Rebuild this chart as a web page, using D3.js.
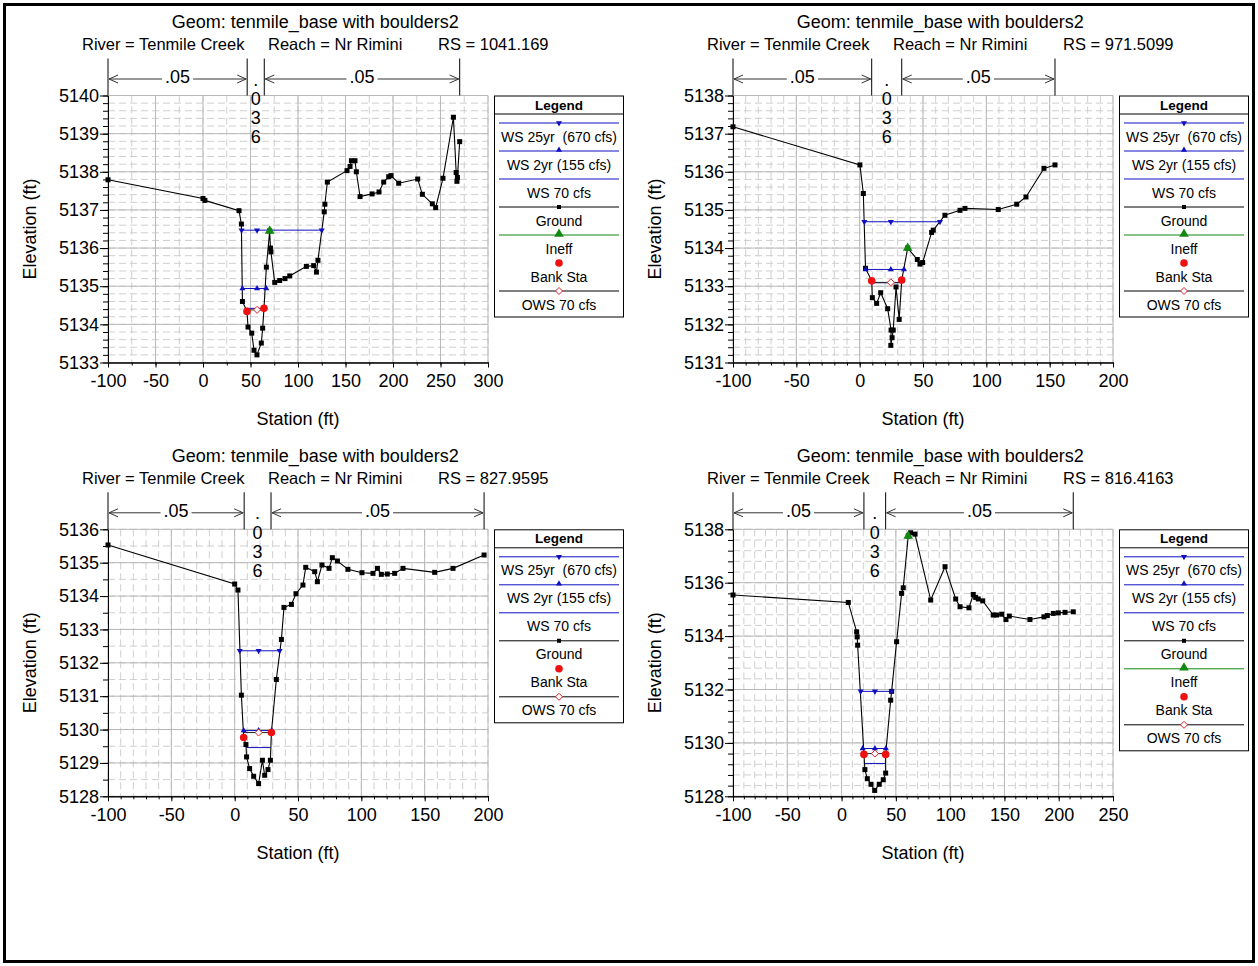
<!DOCTYPE html>
<html>
<head>
<meta charset="utf-8">
<script src="https://cdn.jsdelivr.net/npm/d3@7"></script>
<style>
  body { margin: 0; background: #fff; }
  svg text { font-family: Arial, "Liberation Sans", sans-serif; fill: #000; }
</style>
</head>
<body>
<div id="chart"></div>
<script>
var svgWidth = 1258;
var svgHeight = 966;

// Section headers
var geomTitle = "Geom: tenmile_base with boulders2";
var riverName = "Tenmile Creek";
var reachName = "Nr Rimini";
var riverStations = ["1041.169", "971.5099", "827.9595", "816.4163"];

// Axis ranges and tick steps
var xDomains = [[-100, 300], [-100, 200], [-100, 200], [-100, 250]];
var yDomains = [[5133, 5140], [5131, 5138], [5128, 5136], [5128, 5138]];
var xMajorStep = [50, 50, 50, 50];
var xMinorStep = [25, 10, 10, 10];
var yMajorStep = [1, 1, 1, 2];
var yMinorStep = [0.2, 0.2, 0.5, 0.4];

// Manning's n values and their break stations
var nValues = [".05", ".036", ".05"];
var nBreaks = [[-100, 46.5, 64.5, 270.2], [-100, 9.5, 33.2, 154.2], [-100, 7.5, 28.7, 196.9], [-100, 20.6, 40.6, 213.4]];

// Ground points (station, elevation)
var ground1 = [[-100, 5137.79], [0, 5137.3], [2, 5137.25], [37.9, 5136.98], [40.4, 5136.63], [41.5, 5134.6],
  [46.3, 5134.34], [47.4, 5133.93], [51.3, 5133.77], [53.7, 5133.32], [56.8, 5133.2], [61.4, 5133.51],
  [62.8, 5133.9], [64.2, 5134.42], [66.7, 5135.5], [70.2, 5136.45], [71, 5136.0], [71.5, 5135.9],
  [75.5, 5135.1], [80.7, 5135.15], [86.3, 5135.2], [91.3, 5135.27], [108.8, 5135.52], [116.5, 5135.54],
  [119.4, 5135.37], [121, 5135.68], [127.6, 5136.95], [128.3, 5137.15], [130.9, 5137.73], [151.6, 5138.03],
  [154.8, 5138.14], [156.2, 5138.29], [160, 5138.29], [161.4, 5138.0], [165.3, 5137.35], [178, 5137.42],
  [185.3, 5137.47], [190.2, 5137.73], [195.5, 5137.87], [197.9, 5137.9], [206, 5137.7], [226, 5137.81],
  [230.9, 5137.41], [241.4, 5137.16], [244.9, 5137.06], [252.6, 5137.83], [263.6, 5139.43], [266.5, 5137.98],
  [267.3, 5137.75], [267.8, 5137.85], [270.2, 5138.79]];
var ground2 = [[-100, 5137.18], [0.2, 5136.18], [2.9, 5135.43], [4.6, 5133.47], [9.5, 5133.14], [10, 5132.7],
  [13.4, 5132.55], [16.6, 5132.83], [22.1, 5132.41], [24.8, 5131.85], [24.6, 5131.45], [25.6, 5131.65],
  [26.5, 5131.85], [28.7, 5132.98], [31.2, 5132.13], [33.2, 5133.16], [37.9, 5134.0], [45.5, 5133.7],
  [47.6, 5133.58], [49.7, 5133.62], [56.8, 5134.41], [58.1, 5134.47], [67.3, 5134.86], [79.2, 5134.99],
  [83.1, 5135.04], [109.4, 5135.01], [124, 5135.15], [131.3, 5135.34], [145.5, 5136.09], [154.2, 5136.18]];
var ground3 = [[-100, 5135.53], [0, 5134.36], [2.6, 5134.18], [5.3, 5131.03], [7.1, 5129.76], [8.9, 5129.55],
  [9.4, 5129.18], [11.8, 5128.83], [15, 5128.6], [18.9, 5128.38], [21.9, 5129.08], [23.7, 5128.63],
  [26.3, 5128.8], [28.2, 5129.08], [29, 5129.91], [32.9, 5131.5], [36.9, 5132.7], [38.9, 5133.66],
  [44.8, 5133.75], [48.4, 5134.07], [53.9, 5134.33], [56.1, 5134.86], [63.2, 5134.73], [65.3, 5134.43],
  [68.9, 5134.93], [74.5, 5134.83], [77.1, 5135.15], [81.1, 5135.05], [89.4, 5134.8], [100.5, 5134.7],
  [109.2, 5134.68], [112.7, 5134.83], [115.8, 5134.65], [120.5, 5134.66], [126.3, 5134.68], [132.9, 5134.83],
  [157.9, 5134.71], [172.4, 5134.83], [196.9, 5135.23]];
var ground4 = [[-100, 5135.54], [6.2, 5135.26], [13.9, 5134.16], [14.4, 5133.97], [14.8, 5133.66], [20.6, 5129.57],
  [21.5, 5129.0], [23.7, 5128.66], [27.1, 5128.45], [30.5, 5128.22], [34.7, 5128.45], [38.4, 5128.62],
  [40.6, 5128.87], [40.6, 5129.57], [45.2, 5131.6], [46.1, 5131.93], [50.7, 5133.79], [55.3, 5135.6],
  [56.8, 5135.81], [61.4, 5137.75], [63.6, 5137.87], [67.6, 5137.82], [82.1, 5135.35], [95.3, 5136.6],
  [105.1, 5135.39], [109.1, 5135.1], [117.3, 5135.06], [121.3, 5135.56], [123.5, 5135.45], [125.9, 5135.39],
  [130, 5135.32], [139.7, 5134.79], [142.8, 5134.79], [147.5, 5134.82], [151.4, 5134.62], [154.5, 5134.75],
  [173.5, 5134.62], [186.4, 5134.72], [189.5, 5134.77], [195, 5134.85], [199.6, 5134.87], [205.8, 5134.89],
  [213.4, 5134.91]];

// Bank stations and ineffective flow points
var bank1 = [[46.3, 5134.34], [64.2, 5134.42]];
var bank2 = [[9.5, 5133.14], [33.2, 5133.16]];
var bank3 = [[7.1, 5129.76], [29, 5129.91]];
var bank4 = [[20.6, 5129.57], [40.6, 5129.57]];
var ineff1 = [[70.2, 5136.45]];
var ineff2 = [[37.9, 5134.0]];
var ineff3 = [];
var ineff4 = [[61.4, 5137.75]];

// Water surfaces: elevation and left/right stations
var ws25Elev = [5136.47, 5134.69, 5132.36, 5131.93];
var ws25Sta = [[40.6, 125], [3.7, 63.4], [4, 35.5], [17.6, 46.1]];
var ws2Elev = [5134.94, 5133.44, 5129.97, 5129.79];
var ws2Sta = [[41.5, 66.6], [4.7, 35], [7.1, 29.2], [19.4, 40.8]];
var ws70Elev = [5134.42, 5133.09, 5129.46, 5129.23];
var ws70Sta = [[44.7, 64.3], [9.5, 33.2], [9.2, 28.4], [20.6, 40.6]];
var owsElev = [5134.38, 5133.1, 5129.91, 5129.6];
var midSta = [56.9, 24.6, 18.9, 30.7];

// Legend
var legendLabels = ["WS 25yr  (670 cfs)", "WS 2yr (155 cfs)", "WS 70 cfs", "Ground", "Ineff", "Bank Sta", "OWS 70 cfs"];
var legendKeys = ["ws25", "ws2", "ws70", "ground", "ineff", "bank", "ows"];
var hasIneff = [true, true, false, true];

var grounds = [ground1, ground2, ground3, ground4];
var banks = [bank1, bank2, bank3, bank4];
var ineffs = [ineff1, ineff2, ineff3, ineff4];

// Layout
var plotLeft = [108, 733, 108, 733];
var plotTop = [95.5, 95.5, 529.3, 529.3];
var plotW = 380, plotH = 267;
var wsBlue = "#1010c0";
var font = 18;
var fontFamily = "Arial, 'Liberation Sans', sans-serif";

var svg = d3.select("#chart")
  .append("svg")
  .attr("width", svgWidth)
  .attr("height", svgHeight);

svg.append("rect")
  .attr("x", 4.5).attr("y", 4.5)
  .attr("width", svgWidth - 9).attr("height", svgHeight - 9)
  .attr("fill", "none").attr("stroke", "#000").attr("stroke-width", 3);

function steps(lo, hi, step) {
  var n = Math.round((hi - lo) / step);
  return d3.range(n + 1).map(k => +(lo + k * step).toFixed(4));
}

function drawMarker(g, kind, cx, cy) {
  if (kind == "down" || kind == "up") {
    g.append("path")
      .attr("d", d3.symbol().type(d3.symbolTriangle).size(16)())
      .attr("transform", `translate(${cx},${cy})` + (kind == "down" ? " rotate(180)" : ""))
      .attr("fill", wsBlue);
  } else if (kind == "square") {
    g.append("rect").attr("x", cx - 2.5).attr("y", cy - 2.5).attr("width", 5).attr("height", 5).attr("fill", "#000");
  } else if (kind == "ineff") {
    g.append("path")
      .attr("d", d3.symbol().type(d3.symbolTriangle).size(40)())
      .attr("transform", `translate(${cx},${cy})`)
      .attr("fill", "#118811");
  } else if (kind == "bank") {
    g.append("circle").attr("cx", cx).attr("cy", cy).attr("r", 3.8).attr("fill", "#ee1111");
  } else if (kind == "diamond") {
    g.append("path")
      .attr("d", `M${cx},${cy - 3.5}L${cx + 3.5},${cy}L${cx},${cy + 3.5}L${cx - 3.5},${cy}Z`)
      .attr("fill", "#fff").attr("stroke", "#dd2222").attr("stroke-width", 1);
  }
}

function drawPanel(p) {
  var left = plotLeft[p], top = plotTop[p];
  var chartGroup = svg.append("g").attr("transform", `translate(${left}, ${top})`);

  // Step 1: scales
  var x = d3.scaleLinear().domain(xDomains[p]).range([0, plotW]);
  var y = d3.scaleLinear().domain(yDomains[p]).range([plotH, 0]);

  var xMinor = steps(xDomains[p][0], xDomains[p][1], xMinorStep[p]);
  var xMajor = steps(xDomains[p][0], xDomains[p][1], xMajorStep[p]);
  var yMinor = steps(yDomains[p][0], yDomains[p][1], yMinorStep[p]);
  var yMajor = steps(yDomains[p][0], yDomains[p][1], yMajorStep[p]);

  // Step 2: grid
  var grid = chartGroup.append("g");
  grid.selectAll(".vmin").data(xMinor).enter().append("line")
    .attr("x1", d => x(d)).attr("x2", d => x(d)).attr("y1", 0).attr("y2", plotH)
    .attr("stroke", "#cfcfcf").attr("stroke-dasharray", "7,4");
  grid.selectAll(".hmin").data(yMinor).enter().append("line")
    .attr("y1", d => y(d)).attr("y2", d => y(d)).attr("x1", 0).attr("x2", plotW)
    .attr("stroke", "#cfcfcf").attr("stroke-dasharray", "7,4");
  grid.selectAll(".vmaj").data(xMajor).enter().append("line")
    .attr("x1", d => x(d)).attr("x2", d => x(d)).attr("y1", 0).attr("y2", plotH)
    .attr("stroke", "#b8b8b8");
  grid.selectAll(".hmaj").data(yMajor).enter().append("line")
    .attr("y1", d => y(d)).attr("y2", d => y(d)).attr("x1", 0).attr("x2", plotW)
    .attr("stroke", "#b8b8b8");

  // Step 3: axes (plain hyphen for negative labels)
  var plain = d => String(d);
  chartGroup.append("g")
    .attr("transform", `translate(0, ${plotH})`)
    .call(d3.axisBottom(x).tickValues(xMinor).tickSize(3).tickSizeOuter(0).tickFormat(""));
  chartGroup.append("g")
    .attr("transform", `translate(0, ${plotH})`)
    .call(d3.axisBottom(x).tickValues(xMajor).tickSize(5).tickSizeOuter(0).tickPadding(7).tickFormat(plain))
    .attr("font-size", font).attr("font-family", fontFamily);
  chartGroup.append("g")
    .call(d3.axisLeft(y).tickValues(yMinor).tickSize(5).tickSizeOuter(0).tickFormat(""));
  chartGroup.append("g")
    .call(d3.axisLeft(y).tickValues(yMajor).tickSize(8).tickSizeOuter(0).tickPadding(1).tickFormat(plain))
    .attr("font-size", font).attr("font-family", fontFamily);
  chartGroup.selectAll(".domain").attr("stroke", "#000");

  // Step 4: water surfaces
  var wsList = [
    [ws25Elev[p], ws25Sta[p], "down"],
    [ws2Elev[p], ws2Sta[p], "up"],
    [ws70Elev[p], ws70Sta[p], null]
  ];
  wsList.forEach(function(w) {
    chartGroup.append("line")
      .attr("x1", x(w[1][0])).attr("x2", x(w[1][1]))
      .attr("y1", y(w[0])).attr("y2", y(w[0]))
      .attr("stroke", wsBlue).attr("stroke-width", 1);
  });

  // OWS line between bank stations
  chartGroup.append("line")
    .attr("x1", x(banks[p][0][0])).attr("x2", x(banks[p][1][0]))
    .attr("y1", y(owsElev[p])).attr("y2", y(owsElev[p]))
    .attr("stroke", "#222").attr("stroke-width", 1);

  // Step 5: ground line and points
  var line = d3.line().x(d => x(d[0])).y(d => y(d[1]));
  chartGroup.append("path")
    .datum(grounds[p])
    .attr("d", line)
    .attr("fill", "none").attr("stroke", "#000").attr("stroke-width", 1.1);
  grounds[p].forEach(d => drawMarker(chartGroup, "square", x(d[0]), y(d[1])));

  wsList.forEach(function(w) {
    if (!w[2]) return;
    [w[1][0], midSta[p], w[1][1]].forEach(s => drawMarker(chartGroup, w[2], x(s), y(w[0])));
  });
  drawMarker(chartGroup, "diamond", x(midSta[p]), y(owsElev[p]));
  banks[p].forEach(d => drawMarker(chartGroup, "bank", x(d[0]), y(d[1])));
  ineffs[p].forEach(d => drawMarker(chartGroup, "ineff", x(d[0]), y(d[1])));

  // Step 6: Manning's n header
  var nb = nBreaks[p];
  var hdr = svg.append("g").attr("transform", `translate(${left}, ${top})`);
  nb.forEach(function(s) {
    hdr.append("line")
      .attr("x1", x(s)).attr("x2", x(s)).attr("y1", -37).attr("y2", 0)
      .attr("stroke", "#000");
  });
  [[0, 1], [2, 3]].forEach(function(pair, k) {
    var xa = x(nb[pair[0]]), xb = x(nb[pair[1]]);
    var mid = (xa + xb) / 2, ay = -16.5;
    var t = hdr.append("text")
      .attr("x", mid).attr("y", -12.5)
      .attr("text-anchor", "middle")
      .style("font-size", font + "px")
      .text(nValues[k == 0 ? 0 : 2]);
    var tw = t.node().getComputedTextLength();
    hdr.append("path")
      .attr("d", `M${xa + 1},${ay}L${mid - tw / 2 - 3},${ay}M${mid + tw / 2 + 3},${ay}L${xb - 1},${ay}` +
        `M${xa + 10},${ay - 4}L${xa + 1},${ay}L${xa + 10},${ay + 4}` +
        `M${xb - 10},${ay - 4}L${xb - 1},${ay}L${xb - 10},${ay + 4}`)
      .attr("fill", "none").attr("stroke", "#333").attr("stroke-width", 1);
  });
  var cmid = (x(nb[1]) + x(nb[2])) / 2;
  nValues[1].split("").forEach(function(ch, k) {
    hdr.append("text")
      .attr("x", cmid).attr("y", -10 + k * 19.3)
      .attr("text-anchor", "middle")
      .style("font-size", font + "px")
      .text(ch);
  });

  // Step 7: titles
  var sub = svg.append("g").attr("transform", `translate(${left}, ${top - 45.5})`);
  var parts = [["River = " + riverName, -26], ["Reach = " + reachName, 160], ["RS = " + riverStations[p], 330]];
  var subEnd = 0;
  parts.forEach(function(pt) {
    var t = sub.append("text").attr("x", pt[1]).attr("y", 0)
      .style("font-size", "16.5px").text(pt[0]);
    subEnd = pt[1] + t.node().getComputedTextLength();
  });
  svg.append("text")
    .attr("x", left + (-26 + subEnd) / 2).attr("y", top - 67.5)
    .attr("text-anchor", "middle")
    .style("font-size", font + "px")
    .text(geomTitle);

  // Axis labels
  svg.append("text")
    .attr("transform", `translate(${left - 78}, ${top + plotH / 2}) rotate(-90)`)
    .attr("text-anchor", "middle").attr("dy", "0.35em")
    .style("font-size", font + "px")
    .text("Elevation (ft)");
  svg.append("text")
    .attr("x", left + plotW / 2).attr("y", top + plotH + 62.5)
    .attr("text-anchor", "middle")
    .style("font-size", font + "px")
    .text("Station (ft)");

  // Step 8: legend
  var keys = legendKeys.filter(k => k != "ineff" || hasIneff[p]);
  var lx = left + 386, lw = 129, lh = 18 + keys.length * 28 + 7;
  var leg = svg.append("g").attr("transform", `translate(${lx}, ${top})`);
  leg.append("rect").attr("x", 0.5).attr("y", 0.5).attr("width", lw).attr("height", lh)
    .attr("fill", "#fff").attr("stroke", "#000");
  leg.append("line").attr("x1", 0.5).attr("x2", lw + 0.5).attr("y1", 18.5).attr("y2", 18.5).attr("stroke", "#000");
  leg.append("text").attr("x", lw / 2 + 0.5).attr("y", 14)
    .attr("text-anchor", "middle").style("font-size", "13.5px").style("font-weight", "bold")
    .text("Legend");
  keys.forEach(function(key, k) {
    var ly = 18 + 9.5 + k * 28;
    var lineColor = {ws25: wsBlue, ws2: wsBlue, ws70: wsBlue, ground: "#000", ineff: "#118811", ows: "#000"}[key];
    if (lineColor) {
      leg.append("line").attr("x1", 5).attr("x2", lw - 4).attr("y1", ly).attr("y2", ly).attr("stroke", lineColor);
    }
    var cx = lw / 2 + 0.5;
    if (key == "ws25") drawMarker(leg, "down", cx, ly);
    if (key == "ws2") drawMarker(leg, "up", cx, ly - 1);
    if (key == "ground") leg.append("rect").attr("x", cx - 2).attr("y", ly - 2).attr("width", 4).attr("height", 4).attr("fill", "#000");
    if (key == "ineff") drawMarker(leg, "ineff", cx, ly - 1);
    if (key == "bank") drawMarker(leg, "bank", cx, ly);
    if (key == "ows") drawMarker(leg, "diamond", cx, ly);
    leg.append("text").attr("x", cx).attr("y", ly + 18.5)
      .attr("text-anchor", "middle").style("font-size", "14px").style("white-space", "pre")
      .text(legendLabels[legendKeys.indexOf(key)]);
  });
}

d3.range(4).forEach(drawPanel);
</script>
</body>
</html>
